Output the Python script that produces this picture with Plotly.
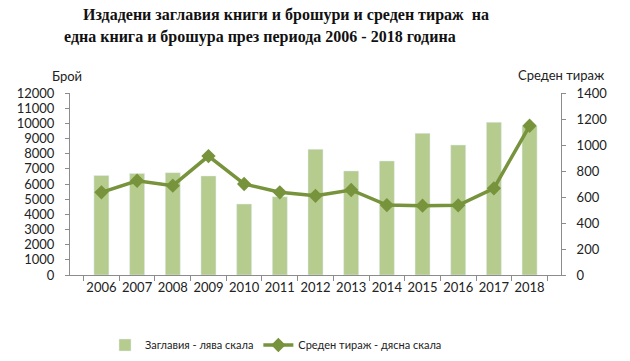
import plotly.graph_objects as go

years = ["2006", "2007", "2008", "2009", "2010", "2011", "2012",
         "2013", "2014", "2015", "2016", "2017", "2018"]
titles = [6560, 6700, 6750, 6530, 4680, 5160, 8290,
          6860, 7520, 9340, 8570, 10070, 9820]
avg_print = [636, 725, 687, 915, 700, 636, 609,
             654, 538, 533, 536, 667, 1148]

bar_name = "Заглавия - лява скала"
line_name = "Среден тираж - дясна скала"
title_line1 = "Издадени заглавия книги и брошури и среден тираж  на"
title_line2 = "една книга и брошура през периода 2006 - 2018 година"
left_title = "Брой"
right_title = "Среден тираж"

fam = "Lato, Noto Sans, Liberation Sans"
tick_font = dict(family=fam, size=13, color="#222222")
axis_color = "#8c8c8c"

fig = go.Figure()
fig.add_trace(go.Bar(x=years, y=titles, name=bar_name, marker_color="#B5CC8E",
                     yaxis="y"))
fig.add_trace(go.Scatter(x=years, y=avg_print, name=line_name, yaxis="y2",
                         mode="lines+markers",
                         line=dict(color="#77933C", width=3.5),
                         marker=dict(symbol="diamond", size=11, color="#77933C")))

L, R, T, B = 70, 69, 93, 86
W, H = 630, 361
pw = W - L - R
ph = H - T - B

common = dict(showgrid=False, showline=True, linecolor=axis_color, linewidth=1,
              tickcolor=axis_color, zeroline=False, automargin=False)

fig.update_layout(
    width=W, height=H,
    margin=dict(l=L, r=R, t=T, b=B, autoexpand=False),
    paper_bgcolor="white", plot_bgcolor="white",
    bargap=0.58,
    showlegend=True,
    legend=dict(orientation="h", x=(276 - L) / pw, xanchor="center",
                y=1 - (345 - T) / ph, yanchor="middle",
                font=dict(family=fam, size=11, color="#222222"),
                traceorder="normal", itemwidth=30),
    xaxis=dict(type="category", ticks="outside", tickson="boundaries", ticklen=5,
               tickfont=tick_font, tickangle=0, **common),
    yaxis=dict(range=[0, 12000], dtick=1000, tickformat="d", ticks="outside", ticklen=4,
               tickfont=tick_font, ticklabelstandoff=8, **common),
    yaxis2=dict(range=[0, 1400], dtick=200, tickformat="d", overlaying="y", side="right",
                ticks="outside", ticklen=4, tickfont=tick_font, ticklabelstandoff=8, **common),
    yaxis3=dict(range=[0, 12000], dtick=1000, overlaying="y", side="left", ticks="inside",
                ticklen=4, showticklabels=False, **common),
    yaxis4=dict(range=[0, 1400], dtick=200, overlaying="y", side="right", ticks="inside",
                ticklen=4, showticklabels=False, **common),
)

ann = [
    ("<b>" + title_line1 + "</b>", 286, 15, dict(family="Liberation Serif", size=16, color="#111111")),
    ("<b>" + title_line2 + "</b>", 260, 37, dict(family="Liberation Serif", size=16, color="#111111")),
    (left_title, 67, 76, tick_font),
    (right_title, 561, 75, tick_font),
]
for text, px, py, font in ann:
    fig.add_annotation(text=text, x=(px - L) / pw, y=1 - (py - T) / ph,
                       xref="paper", yref="paper", xanchor="center", yanchor="middle",
                       showarrow=False, font=font)

fig.write_html("out.html", config={"displayModeBar": False},
               post_script="document.body.style.margin='0';document.body.style.overflow='hidden';")
